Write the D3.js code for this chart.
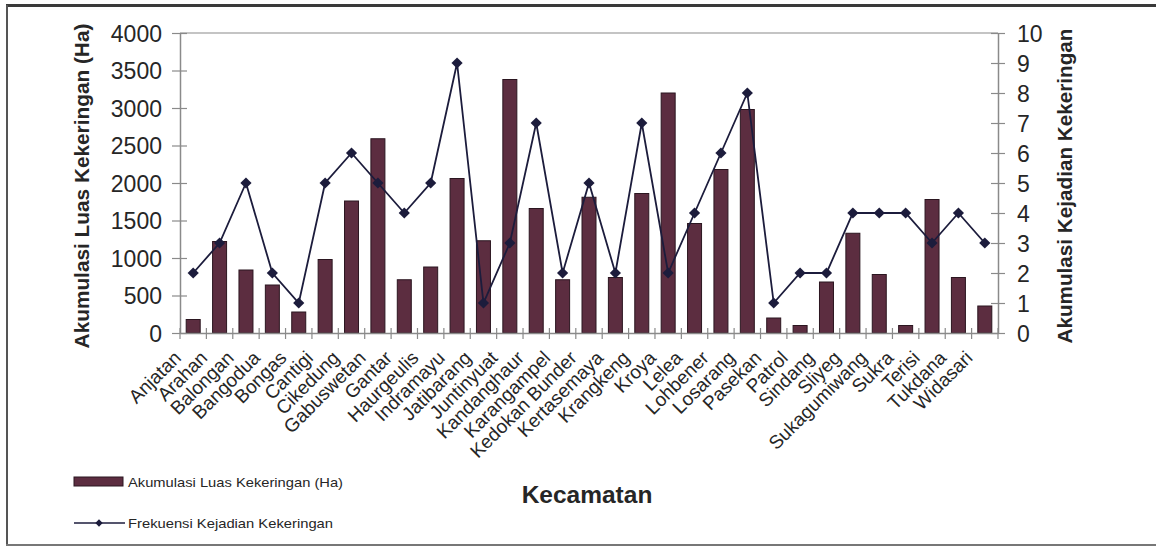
<!DOCTYPE html>
<html>
<head>
<meta charset="utf-8">
<script src="https://cdn.jsdelivr.net/npm/d3@7"></script>
<style>
  html, body { margin: 0; padding: 0; background: #fff; }
  svg { display: block; font-family: "Liberation Sans", Arial, sans-serif; }
</style>
</head>
<body>
<svg id="chart" width="1156" height="547"></svg>
<script>
// Districts (kecamatan)
const categories = ["Anjatan", "Arahan", "Balongan", "Bangodua", "Bongas", "Cantigi", "Cikedung",
  "Gabuswetan", "Gantar", "Haurgeulis", "Indramayu", "Jatibarang", "Juntinyuat", "Kandanghaur",
  "Karangampel", "Kedokan Bunder", "Kertasemaya", "Krangkeng", "Kroya", "Lelea", "Lohbener",
  "Losarang", "Pasekan", "Patrol", "Sindang", "Sliyeg", "Sukagumiwang", "Sukra", "Terisi",
  "Tukdana", "Widasari"];

// Cumulative drought area (Ha)
const luas = [180, 1220, 840, 640, 280, 980, 1760, 2590, 710, 880, 2060, 1230, 3380, 1660,
  710, 1810, 740, 1860, 3200, 1460, 2180, 2980, 200, 100, 680, 1330, 780, 100, 1780, 740, 360];

// Drought occurrence frequency
const frekuensi = [2, 3, 5, 2, 1, 5, 6, 5, 4, 5, 9, 1, 3, 7, 2, 5, 2, 7, 2, 4, 6, 8, 1, 2, 2,
  4, 4, 4, 3, 4, 3];

const leftTicks = [0, 500, 1000, 1500, 2000, 2500, 3000, 3500, 4000];
const rightTicks = [0, 1, 2, 3, 4, 5, 6, 7, 8, 9, 10];

const svg = d3.select("#chart");
const plot = { left: 180, right: 998, top: 33, bottom: 333 };
const font = "'Liberation Sans', Arial, sans-serif";

const barFill = "#5c2d40";
const barStroke = "#2b1620";
const lineColor = "#1c1c3c";
const axisColor = "#8a8a8a";
const textColor = "#262626";

// Outer frame
svg.append("line").attr("x1", 6).attr("x2", 1156).attr("y1", 5.5).attr("y2", 5.5)
  .attr("stroke", "#3a3a3a").attr("stroke-width", 3);
svg.append("line").attr("x1", 7).attr("x2", 7).attr("y1", 5).attr("y2", 545)
  .attr("stroke", "#555").attr("stroke-width", 2);
svg.append("line").attr("x1", 6).attr("x2", 1156).attr("y1", 545).attr("y2", 545)
  .attr("stroke", "#777").attr("stroke-width", 2);

const x = d3.scaleBand().domain(categories).range([plot.left, plot.right]).paddingInner(0).paddingOuter(0);
const yL = d3.scaleLinear().domain([0, 4000]).range([plot.bottom, plot.top]);
const yR = d3.scaleLinear().domain([0, 10]).range([plot.bottom, plot.top]);

// Plot area top border
svg.append("line").attr("x1", plot.left).attr("x2", plot.right)
  .attr("y1", plot.top).attr("y2", plot.top)
  .attr("stroke", "#b0b0b0").attr("stroke-width", 1.5);

// Bars
const barW = 14;
svg.append("g").selectAll("rect").data(categories).join("rect")
  .attr("x", (d) => x(d) + (x.bandwidth() - barW) / 2)
  .attr("width", barW)
  .attr("y", (d, i) => yL(luas[i]))
  .attr("height", (d, i) => plot.bottom - yL(luas[i]))
  .attr("fill", barFill)
  .attr("stroke", barStroke)
  .attr("stroke-width", 1);

// Left axis
const axL = svg.append("g").attr("transform", `translate(${plot.left},0)`)
  .call(d3.axisLeft(yL).tickValues(leftTicks).tickFormat(d3.format("d")).tickSize(0).tickPadding(18));
axL.attr("font-family", font);
axL.select(".domain").attr("stroke", axisColor).attr("stroke-width", 1.5);
axL.selectAll(".tick text").attr("font-size", 23).attr("fill", textColor).attr("dy", "0.36em");
axL.selectAll(".tick").append("line").attr("x1", -8).attr("x2", 7)
  .attr("stroke", axisColor).attr("stroke-width", 1.2);

// Right axis
const axR = svg.append("g").attr("transform", `translate(${plot.right},0)`)
  .call(d3.axisRight(yR).tickValues(rightTicks).tickSize(0).tickPadding(19));
axR.attr("font-family", font);
axR.select(".domain").attr("stroke", axisColor).attr("stroke-width", 1.5);
axR.selectAll(".tick text").attr("font-size", 23).attr("fill", textColor).attr("dy", "0.36em");
axR.selectAll(".tick").append("line").attr("x1", -7).attr("x2", 7)
  .attr("stroke", axisColor).attr("stroke-width", 1.2);

// Bottom axis with rotated district names
const axB = svg.append("g").attr("transform", `translate(0,${plot.bottom})`)
  .call(d3.axisBottom(x).tickSize(0).tickPadding(0));
axB.attr("font-family", font);
axB.select(".domain").attr("stroke", axisColor).attr("stroke-width", 1.5);
axB.selectAll(".tick text")
  .attr("font-size", 19).attr("fill", textColor)
  .attr("text-anchor", "end")
  .attr("y", 0).attr("dy", 0)
  .attr("transform", "translate(-11,26) rotate(-45)");
// Category separator ticks
svg.append("g").selectAll("line").data(d3.range(categories.length + 1)).join("line")
  .attr("x1", (i) => plot.left + i * x.step())
  .attr("x2", (i) => plot.left + i * x.step())
  .attr("y1", plot.bottom - 5).attr("y2", plot.bottom + 6)
  .attr("stroke", axisColor).attr("stroke-width", 1.2);

// Frequency line
const line = d3.line()
  .x((d, i) => x(categories[i]) + x.bandwidth() / 2)
  .y((d) => yR(d));
svg.append("path").datum(frekuensi).attr("d", line)
  .attr("fill", "none").attr("stroke", lineColor).attr("stroke-width", 1.8);

const diamond = d3.symbol().type(d3.symbolDiamond2).size(80);
svg.append("g").selectAll("path").data(frekuensi).join("path")
  .attr("d", diamond)
  .attr("transform", (d, i) => `translate(${x(categories[i]) + x.bandwidth() / 2},${yR(d)})`)
  .attr("fill", lineColor);

// Axis titles
const titles = svg.append("g").attr("font-family", font).attr("font-weight", "bold").attr("fill", textColor);
titles.append("text")
  .attr("transform", "translate(89,186) rotate(-90)")
  .attr("text-anchor", "middle").attr("font-size", 20.8)
  .text("Akumulasi Luas Kekeringan (Ha)");
titles.append("text")
  .attr("transform", "translate(1072,186) rotate(-90)")
  .attr("text-anchor", "middle").attr("font-size", 20.7)
  .text("Akumulasi Kejadian Kekeringan");
titles.append("text")
  .attr("x", 587).attr("y", 503)
  .attr("text-anchor", "middle").attr("font-size", 24.5)
  .text("Kecamatan");

// Legend
const lg = svg.append("g").attr("font-family", font).attr("fill", textColor);
lg.append("rect").attr("x", 74).attr("y", 477).attr("width", 49).attr("height", 9)
  .attr("fill", barFill).attr("stroke", barStroke).attr("stroke-width", 1);
lg.append("text").attr("x", 128).attr("y", 486.5).attr("font-size", 13)
  .attr("textLength", 215).attr("lengthAdjust", "spacingAndGlyphs")
  .text("Akumulasi Luas Kekeringan (Ha)");
lg.append("line").attr("x1", 74).attr("x2", 125).attr("y1", 523).attr("y2", 523)
  .attr("stroke", lineColor).attr("stroke-width", 1.5);
lg.append("path").attr("d", d3.symbol().type(d3.symbolDiamond2).size(34))
  .attr("transform", "translate(99,523)").attr("fill", lineColor);
lg.append("text").attr("x", 128).attr("y", 527.5).attr("font-size", 13)
  .attr("textLength", 205).attr("lengthAdjust", "spacingAndGlyphs")
  .text("Frekuensi Kejadian Kekeringan");
</script>
</body>
</html>
